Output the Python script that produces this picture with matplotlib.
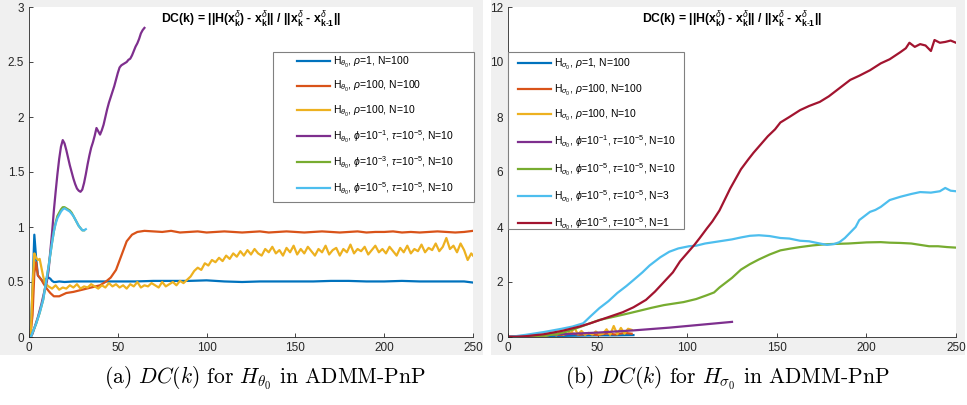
import matplotlib
matplotlib.use('Agg')
import matplotlib.pyplot as plt
from matplotlib.patches import Rectangle

plt.rcParams['font.family'] = ['Liberation Sans', 'DejaVu Sans']
plt.rcParams['mathtext.fontset'] = 'custom'
plt.rcParams['mathtext.rm'] = 'Liberation Sans'
plt.rcParams['mathtext.it'] = 'Liberation Sans:italic'
plt.rcParams['mathtext.bf'] = 'Liberation Sans:bold'

colors = ['#0072BD', '#D95319', '#EDB120', '#7E2F8E', '#77AC30', '#4DBEEE', '#A2142F']

# ---- (a) H_theta0 ----
th_k_blue = [1, 2, 3, 4, 5, 6, 7, 8, 9, 10, 11, 12, 13, 14, 15, 17, 20, 25, 30,
             40, 50, 60, 70, 80, 90, 100, 105, 110, 120, 130, 140, 150, 160, 170,
             180, 190, 200, 210, 220, 230, 240, 245, 250]
th_blue = [0.05, 0.45, 0.93, 0.72, 0.56, 0.54, 0.52, 0.5, 0.52, 0.53, 0.54, 0.53, 0.51,
           0.5, 0.5, 0.505, 0.5, 0.505, 0.505, 0.505, 0.505, 0.505, 0.51, 0.51, 0.51,
           0.515, 0.51, 0.505, 0.5, 0.505, 0.505, 0.505, 0.505, 0.51, 0.51, 0.505,
           0.505, 0.51, 0.505, 0.505, 0.505, 0.505, 0.495]

th_k_orange = [1, 2, 3, 4, 5, 6, 7, 8, 10, 12, 14, 17, 21, 25, 30, 35, 40, 43, 46, 49,
               52, 55, 58, 61, 65,
               70, 75, 80, 85, 90, 95, 100, 105, 110, 115,
               120, 125, 130, 135, 140, 145, 150, 155, 160, 165,
               170, 175, 180, 185, 190, 195, 200, 205, 210, 215,
               220, 225, 230, 235, 240, 245, 250]
th_orange = [0.05, 0.2, 0.58, 0.68, 0.56, 0.54, 0.52, 0.49, 0.44, 0.4, 0.37, 0.37, 0.4,
             0.41, 0.43, 0.45, 0.47, 0.5, 0.54, 0.61, 0.74, 0.87, 0.93, 0.955, 0.965,
             0.96, 0.955, 0.965, 0.95, 0.955, 0.96, 0.95, 0.955, 0.96, 0.955,
             0.95, 0.955, 0.96, 0.95, 0.955, 0.96, 0.955, 0.95, 0.955, 0.96,
             0.955, 0.95, 0.955, 0.96, 0.95, 0.955, 0.955, 0.96, 0.95, 0.955,
             0.95, 0.955, 0.96, 0.955, 0.95, 0.955, 0.965]

th_k_yellow = [1, 2, 3, 4, 5, 6, 7, 8, 9,
               11, 13, 15, 17, 19, 21, 23, 25, 27, 29,
               31, 33, 35, 37, 39, 41, 43, 45, 47, 49,
               51, 53, 55, 57, 59, 61, 63, 65, 67, 69,
               71, 73, 75, 77, 79, 81, 83, 85, 87, 89,
               91, 93, 95, 97, 99, 101, 103, 105, 107, 109,
               111, 113, 115, 117, 119, 121, 123, 125, 127, 129,
               131, 133, 135, 137, 139, 141, 143, 145, 147, 149,
               151, 153, 155, 157, 159, 161, 163, 165, 167, 169,
               171, 173, 175, 177, 179, 181, 183, 185, 187, 189,
               191, 193, 195, 197, 199, 201, 203, 205, 207, 209,
               211, 213, 215, 217, 219, 221, 223, 225, 227, 229,
               231, 233, 235, 237, 239, 241, 243, 245, 247, 249, 250]
th_yellow = [0.02, 0.45, 0.76, 0.72, 0.7, 0.71, 0.63, 0.55, 0.49,
             0.46, 0.44, 0.47, 0.43, 0.45, 0.44, 0.47, 0.45, 0.48, 0.44,
             0.46, 0.45, 0.48, 0.46, 0.44, 0.47, 0.45, 0.49, 0.46, 0.48,
             0.45, 0.47, 0.44, 0.48, 0.46, 0.5, 0.45, 0.47, 0.46, 0.49,
             0.47, 0.45, 0.5, 0.46, 0.48, 0.5, 0.47, 0.51, 0.49, 0.52,
             0.55, 0.6, 0.63, 0.61, 0.67, 0.65, 0.7, 0.68, 0.72, 0.69,
             0.74, 0.71, 0.76, 0.73, 0.78, 0.74, 0.79, 0.75, 0.8, 0.76,
             0.74, 0.8, 0.77, 0.82, 0.76, 0.79, 0.74, 0.81, 0.77, 0.83,
             0.75, 0.8, 0.76, 0.82, 0.78, 0.74, 0.8, 0.77, 0.83, 0.75,
             0.79, 0.81, 0.74, 0.8, 0.77, 0.84, 0.76, 0.8, 0.78, 0.82,
             0.75, 0.79, 0.83, 0.77, 0.8, 0.76, 0.82, 0.78, 0.74, 0.81,
             0.77, 0.83, 0.76, 0.8, 0.78, 0.84, 0.77, 0.81, 0.79, 0.85,
             0.78, 0.82, 0.9, 0.8, 0.83, 0.77, 0.85, 0.79, 0.7, 0.76, 0.74]

th_k_purple = list(range(1, 66))
th_purple = [0.0, 0.03, 0.08, 0.13, 0.18, 0.24, 0.3, 0.37, 0.44, 0.5,
             0.6, 0.78, 0.95, 1.15, 1.32, 1.48, 1.62, 1.73, 1.79, 1.76,
             1.7, 1.63, 1.56, 1.5, 1.44, 1.39, 1.35, 1.33, 1.32, 1.34,
             1.4, 1.48, 1.57, 1.65, 1.72, 1.77, 1.83, 1.9, 1.87, 1.84,
             1.88, 1.93, 2.0, 2.07, 2.13, 2.18, 2.23, 2.28, 2.34, 2.4,
             2.45, 2.47, 2.48, 2.49, 2.5, 2.52, 2.53, 2.56, 2.6, 2.64,
             2.67, 2.71, 2.76, 2.79, 2.81]

th_k_green = list(range(1, 32))
th_green = [0.0, 0.04, 0.08, 0.12, 0.17, 0.22, 0.28, 0.34, 0.44, 0.54,
            0.64, 0.75, 0.86, 0.96, 1.04, 1.1, 1.13, 1.16, 1.18, 1.18,
            1.17, 1.16, 1.15, 1.13, 1.1, 1.07, 1.04, 1.01, 0.99, 0.97, 0.97]

th_k_lblue = list(range(1, 33))
th_lblue = [0.0, 0.04, 0.08, 0.12, 0.17, 0.22, 0.28, 0.34, 0.44, 0.54,
            0.64, 0.75, 0.86, 0.96, 1.03, 1.08, 1.11, 1.14, 1.16, 1.17,
            1.16, 1.15, 1.14, 1.12, 1.1, 1.07, 1.04, 1.01, 0.99, 0.97, 0.97, 0.98]

# ---- (b) H_sigma0 ----
sg_k_blue = [1, 10, 20, 30, 40, 50, 60, 70]
sg_blue = [0.0, 0.02, 0.03, 0.04, 0.05, 0.06, 0.06, 0.07]

sg_k_orange = [1, 5, 10, 15, 20, 25, 30, 35, 40, 45, 50, 55, 60, 65, 69]
sg_orange = [0.01, 0.02, 0.03, 0.04, 0.06, 0.1, 0.07, 0.14, 0.08, 0.12, 0.07, 0.13,
             0.09, 0.15, 0.12]

sg_k_yellow = [1, 5, 9, 13, 17, 21, 25, 27, 29, 31, 33, 35, 37, 39, 41, 43, 45, 47,
               49, 51, 53, 55, 57, 59, 61, 63, 65, 67, 69]
sg_yellow = [0.01, 0.02, 0.03, 0.04, 0.06, 0.05, 0.1, 0.06, 0.18, 0.08, 0.26, 0.12,
             0.34, 0.1, 0.22, 0.08, 0.15, 0.09, 0.2, 0.1, 0.12, 0.28, 0.08, 0.4,
             0.1, 0.33, 0.12, 0.3, 0.26]

sg_k_purple = [1, 10, 20, 30, 40, 50, 60, 70, 80, 90, 100, 110, 120, 125]
sg_purple = [0.02, 0.04, 0.07, 0.1, 0.13, 0.16, 0.2, 0.24, 0.29, 0.34, 0.4, 0.46,
             0.52, 0.55]

sg_k_green = [1, 10, 20, 27, 33, 40, 45, 51, 60, 68, 75, 80, 87, 93, 98, 105, 111,
              115, 118, 121, 125, 130, 135, 140, 146, 152, 158, 163, 170, 175, 180,
              190, 200, 208, 213, 219, 225, 230, 235, 240, 245, 250]
sg_green = [0.0, 0.02, 0.05, 0.1, 0.2, 0.36, 0.48, 0.62, 0.75, 0.87, 0.98, 1.06,
            1.16, 1.22, 1.27, 1.38, 1.52, 1.62, 1.8, 1.95, 2.15, 2.45, 2.65, 2.82,
            3.0, 3.15, 3.22, 3.27, 3.33, 3.36, 3.38, 3.4, 3.44, 3.45, 3.43, 3.42,
            3.4, 3.35, 3.3, 3.3, 3.27, 3.25]

sg_k_lblue = [1, 10, 20, 30, 36, 42, 46, 51, 56, 61, 66, 70, 75, 79, 85, 90, 95, 101,
              105, 110, 115, 120, 125, 130, 135, 140, 146, 152, 157, 163, 168, 174,
              178, 182, 185, 188, 191, 194, 196, 199, 202, 205, 208, 213, 219, 225,
              230, 236, 241, 244, 247, 250]
sg_lblue = [0.0, 0.08, 0.18, 0.3, 0.38, 0.5, 0.75, 1.05, 1.3, 1.6, 1.85, 2.07, 2.35,
            2.6, 2.9, 3.1, 3.22, 3.3, 3.32, 3.4, 3.45, 3.5, 3.55, 3.62, 3.68, 3.7,
            3.67, 3.6, 3.58, 3.5, 3.48, 3.4, 3.35, 3.38, 3.45, 3.6, 3.8, 4.0, 4.25,
            4.4, 4.55, 4.62, 4.73, 4.98, 5.1, 5.2, 5.27, 5.25, 5.3, 5.42, 5.32, 5.3]

sg_k_red = [1, 10, 20, 30, 40, 46, 55, 64, 70, 77, 82, 87, 92, 96, 100, 104, 107,
            111, 114, 118, 121, 124, 127, 130, 134, 137, 141, 145, 149, 152, 157,
            163, 168, 174, 179, 185, 191, 196, 202, 208, 213, 219, 222, 224, 227,
            230, 233, 236, 238, 241, 244, 247, 250]
sg_red = [0.0, 0.03, 0.1, 0.22, 0.38, 0.5, 0.7, 0.9, 1.08, 1.35, 1.65, 2.0, 2.35,
          2.75, 3.05, 3.35, 3.6, 3.95, 4.2, 4.6, 5.0, 5.4, 5.75, 6.1, 6.45, 6.7,
          7.0, 7.3, 7.55, 7.8, 8.0, 8.25, 8.4, 8.55, 8.75, 9.05, 9.35, 9.5, 9.7,
          9.95, 10.1, 10.36, 10.5, 10.7, 10.55, 10.65, 10.6, 10.4, 10.8, 10.7,
          10.73, 10.78, 10.7]

th_labels = [r'H$_{\theta_0}$, $\rho$=1, N=100',
             r'H$_{\theta_0}$, $\rho$=100, N=100',
             r'H$_{\theta_0}$, $\rho$=100, N=10',
             r'H$_{\theta_0}$, $\phi$=10$^{-1}$, $\tau$=10$^{-5}$, N=10',
             r'H$_{\theta_0}$, $\phi$=10$^{-3}$, $\tau$=10$^{-5}$, N=10',
             r'H$_{\theta_0}$, $\phi$=10$^{-5}$, $\tau$=10$^{-5}$, N=10']
sg_labels = [r'H$_{\sigma_0}$, $\rho$=1, N=100',
             r'H$_{\sigma_0}$, $\rho$=100, N=100',
             r'H$_{\sigma_0}$, $\rho$=100, N=10',
             r'H$_{\sigma_0}$, $\phi$=10$^{-1}$, $\tau$=10$^{-5}$, N=10',
             r'H$_{\sigma_0}$, $\phi$=10$^{-5}$, $\tau$=10$^{-5}$, N=10',
             r'H$_{\sigma_0}$, $\phi$=10$^{-5}$, $\tau$=10$^{-5}$, N=3',
             r'H$_{\sigma_0}$, $\phi$=10$^{-5}$, $\tau$=10$^{-5}$, N=1']

title = (r'DC(k) = ||H($\mathbf{x}_\mathbf{k}^{\delta}$) - $\mathbf{x}_\mathbf{k}^{\delta}$||'
         r' / ||$\mathbf{x}_\mathbf{k}^{\delta}$ - '
         r'$\mathbf{x}_{\mathbf{k}\text{-}\mathbf{1}}^{\delta}$||')

W, H = 967, 405
fig = plt.figure(figsize=(W / 100, H / 100), dpi=100, facecolor='white')

# grey MATLAB-style panels (behind the axes)
fig.patches.append(Rectangle((0, 50 / H), 483 / W, 355 / H, transform=fig.transFigure,
                             facecolor='#f0f0f0', edgecolor='none', zorder=-10))
fig.patches.append(Rectangle((491 / W, 50 / H), 474 / W, 355 / H, transform=fig.transFigure,
                             facecolor='#f0f0f0', edgecolor='none', zorder=-10))

ax1 = fig.add_axes([29 / W, 68 / H, 444 / W, 330 / H])
ax2 = fig.add_axes([508 / W, 68 / H, 448 / W, 330 / H])


def style(ax, ymax, ystep, ylabels):
    ax.set_facecolor('white')
    ax.set_xlim(0, 250)
    ax.set_ylim(0, ymax)
    ax.set_xticks(range(0, 251, 50))
    yt = [i * ystep for i in range(len(ylabels))]
    ax.set_yticks(yt)
    ax.set_yticklabels(ylabels)
    for s in ['top', 'right']:
        ax.spines[s].set_visible(False)
    for s in ['left', 'bottom']:
        ax.spines[s].set_color('#262626')
        ax.spines[s].set_linewidth(0.6)
    ax.tick_params(direction='in', length=3, width=0.6, colors='#262626', labelsize=8.5)
    ax.text(0.5, 0.96, title, transform=ax.transAxes, ha='center', va='center',
            fontsize=8.8, fontweight='bold')


style(ax1, 3, 0.5, ['0', '0.5', '1', '1.5', '2', '2.5', '3'])
style(ax2, 12, 2, ['0', '2', '4', '6', '8', '10', '12'])

lw = 1.6
ax1.plot(th_k_blue, th_blue, color=colors[0], lw=lw, label=th_labels[0])
ax1.plot(th_k_orange, th_orange, color=colors[1], lw=lw, label=th_labels[1])
ax1.plot(th_k_yellow, th_yellow, color=colors[2], lw=lw, label=th_labels[2])
ax1.plot(th_k_purple, th_purple, color=colors[3], lw=lw, label=th_labels[3])
ax1.plot(th_k_green, th_green, color=colors[4], lw=lw, label=th_labels[4])
ax1.plot(th_k_lblue, th_lblue, color=colors[5], lw=lw, label=th_labels[5])

ax2.plot(sg_k_blue, sg_blue, color=colors[0], lw=lw, label=sg_labels[0])
ax2.plot(sg_k_orange, sg_orange, color=colors[1], lw=lw, label=sg_labels[1])
ax2.plot(sg_k_yellow, sg_yellow, color=colors[2], lw=lw, label=sg_labels[2])
ax2.plot(sg_k_purple, sg_purple, color=colors[3], lw=lw, label=sg_labels[3])
ax2.plot(sg_k_green, sg_green, color=colors[4], lw=lw, label=sg_labels[4])
ax2.plot(sg_k_lblue, sg_lblue, color=colors[5], lw=lw, label=sg_labels[5])
ax2.plot(sg_k_red, sg_red, color=colors[6], lw=lw, label=sg_labels[6])


def legend_box(ax, box, anchor, spacing):
    ax.add_patch(Rectangle(box[:2], box[2], box[3], transform=ax.transAxes,
                           facecolor='white', edgecolor='#808080', lw=0.8,
                           zorder=4, clip_on=False))
    ax.legend(loc='upper left', bbox_to_anchor=anchor, frameon=False, borderpad=0,
              borderaxespad=0, handlelength=3.2, handletextpad=0.3,
              labelspacing=spacing, fontsize=7.5)


legend_box(ax1, (244 / 444, 135 / 330, 201 / 444, 150 / 330),
           ((297 - 29) / 444, (337 - 55) / 330), 0.88)
legend_box(ax2, (0, 108 / 330, 176 / 448, 177 / 330),
           (10 / 448, (337 - 57) / 330), 1.0)
ax1.set_xlim(0, 250)
ax1.set_ylim(0, 3)
ax2.set_xlim(0, 250)
ax2.set_ylim(0, 12)

fig.text(265 / W, 1 - 378 / H, r'(a) $DC(k)$ for $H_{\theta_0}$ in ADMM-PnP',
         ha='center', va='center', family='cmr10', math_fontfamily='cm', fontsize=15.5)
fig.text(727 / W, 1 - 378 / H, r'(b) $DC(k)$ for $H_{\sigma_0}$ in ADMM-PnP',
         ha='center', va='center', family='cmr10', math_fontfamily='cm', fontsize=15.5)

fig.savefig('out.png', dpi=100, facecolor='white')
